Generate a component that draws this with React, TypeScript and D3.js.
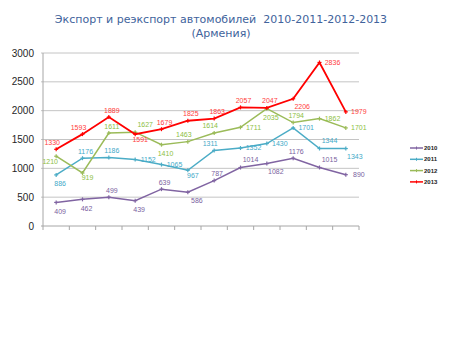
import React from 'react';
import * as d3 from 'd3';

// Categories (12 periods, no labels shown on the axis)
const months = ['Jan', 'Feb', 'Mar', 'Apr', 'May', 'Jun', 'Jul', 'Aug', 'Sep', 'Oct', 'Nov', 'Dec'];

// Series values
const values2010 = [409, 462, 499, 439, 639, 586, 787, 1014, 1082, 1176, 1015, 890];
const values2011 = [886, 1176, 1186, 1152, 1065, 967, 1311, 1352, 1430, 1701, 1344, 1343];
const values2012 = [1210, 919, 1611, 1627, 1410, 1463, 1614, 1711, 2035, 1794, 1862, 1701];
const values2013 = [1330, 1593, 1889, 1591, 1679, 1825, 1863, 2057, 2047, 2206, 2836, 1979];

const seriesNames = ['2010', '2011', '2012', '2013'];
const yTicks = [0, 500, 1000, 1500, 2000, 2500, 3000];

// where each data label sits relative to its point
const place2010 = ['b', 'b', 't', 'b', 't', 'br', 't', 'tr', 'br', 't', 'tr', 'r'];
const place2011 = ['b', 't', 't', 'r', 'r', 'bs', 'tl', 'r', 'r', 'r', 'tr', 'br'];
const place2012 = ['l', 'bs', 't', 'tr', 'b', 'tl', 'tl', 'r', 'b', 't', 'r', 'r'];
const place2013 = ['tl', 'tl', 't', 'bs', 't', 't', 't', 't', 't', 'br', 'r', 'r'];

const offsets: Record<string, [number, number]> = {
  t: [3, -7],
  b: [4, 9],
  bs: [5, 5],
  tr: [10, -8],
  br: [9, 8],
  r: [13, 0],
  l: [-6, 5],
  tl: [-4, -7],
};

const colors = ['#8064A2', '#4BACC6', '#9BBB59', '#FF0000'];
const labelColors = ['#7A5FA0', '#3FA9C8', '#8DC03F', '#FF4040'];

const width = 450;
const height = 337;
const plot = { left: 43, right: 359, top: 53, bottom: 226 };

const App = () => {
  const x = d3.scaleBand<string>().domain(months).range([plot.left, plot.right]);
  const y = d3.scaleLinear().domain([0, 3000]).range([plot.bottom, plot.top]);
  const cx = (m: string) => (x(m) ?? 0) + x.bandwidth() / 2;

  const allValues = [values2010, values2011, values2012, values2013];
  const allPlaces = [place2010, place2011, place2012, place2013];

  const line = d3
    .line<number>()
    .x((_, i) => cx(months[i]))
    .y((d) => y(d));

  // band boundaries for the small x tick marks
  const xTickPos = [...months.map((m) => x(m) ?? 0), plot.right];

  return (
    <svg
      width={width}
      height={height}
      style={{ position: 'absolute', left: 0, top: 0, background: '#fff' }}
      fontFamily="Liberation Sans, Arial, sans-serif"
    >
      {/* Title */}
      <text
        x={221}
        y={23}
        textAnchor="middle"
        fontFamily="DejaVu Sans, sans-serif"
        fontSize={11}
        fill="#41639C"
        style={{ whiteSpace: 'pre' }}
      >
        {'Экспорт и реэкспорт автомобилей  2010-2011-2012-2013'}
      </text>
      <text
        x={221}
        y={37}
        textAnchor="middle"
        fontFamily="DejaVu Sans, sans-serif"
        fontSize={11}
        fill="#41639C"
      >
        (Армения)
      </text>

      {/* Horizontal gridlines */}
      {yTicks
        .filter((t) => t > 0)
        .map((t) => (
          <line
            key={'g' + t}
            x1={plot.left - 2}
            x2={plot.right}
            y1={y(t)}
            y2={y(t)}
            stroke="#C4C4C4"
            strokeWidth={1}
          />
        ))}

      {/* Axes */}
      <line x1={plot.left} x2={plot.left} y1={plot.top} y2={plot.bottom} stroke="#A6A6A6" />
      <line x1={plot.left - 2} x2={plot.right} y1={plot.bottom} y2={plot.bottom} stroke="#A6A6A6" />
      {xTickPos.map((p, i) => (
        <line key={'xt' + i} x1={p} x2={p} y1={plot.bottom} y2={plot.bottom + 4} stroke="#A6A6A6" />
      ))}
      {yTicks.map((t) => (
        <text key={'yl' + t} x={34} y={y(t)} dy="0.35em" textAnchor="end" fontSize={10} fill="#1F1F1F">
          {t}
        </text>
      ))}

      {/* Series */}
      {allValues.map((vals, s) => (
        <g key={'s' + s}>
          <path
            d={line(vals) ?? ''}
            fill="none"
            stroke={colors[s]}
            strokeWidth={s === 3 ? 1.8 : 1.5}
          />
          {vals.map((v, i) => (
            <g key={'m' + i}>
              <line
                x1={cx(months[i]) - 2}
                x2={cx(months[i]) + 2}
                y1={y(v)}
                y2={y(v)}
                stroke={colors[s]}
                strokeWidth={1.2}
              />
              <line
                x1={cx(months[i])}
                x2={cx(months[i])}
                y1={y(v) - 2}
                y2={y(v) + 2}
                stroke={colors[s]}
                strokeWidth={1.2}
              />
            </g>
          ))}
          {vals.map((v, i) => {
            const [dx, dy] = offsets[allPlaces[s][i]];
            return (
              <text
                key={'l' + i}
                x={cx(months[i]) + dx}
                y={y(v) + dy}
                dy="0.35em"
                textAnchor="middle"
                fontSize={7}
                fill={labelColors[s]}
              >
                {v}
              </text>
            );
          })}
        </g>
      ))}

      {/* Legend */}
      {seriesNames.map((n, i) => {
        const ly = 148 + i * 11.3;
        return (
          <g key={'lg' + n}>
            <line x1={410} x2={423} y1={ly} y2={ly} stroke={colors[i]} strokeWidth={1.5} />
            <line x1={416.5} x2={416.5} y1={ly - 1.5} y2={ly + 1.5} stroke={colors[i]} strokeWidth={1} />
            <text x={424} y={ly} dy="0.35em" fontSize={6} fontWeight="bold" fill="#222">
              {n}
            </text>
          </g>
        );
      })}
    </svg>
  );
};

export default App;
